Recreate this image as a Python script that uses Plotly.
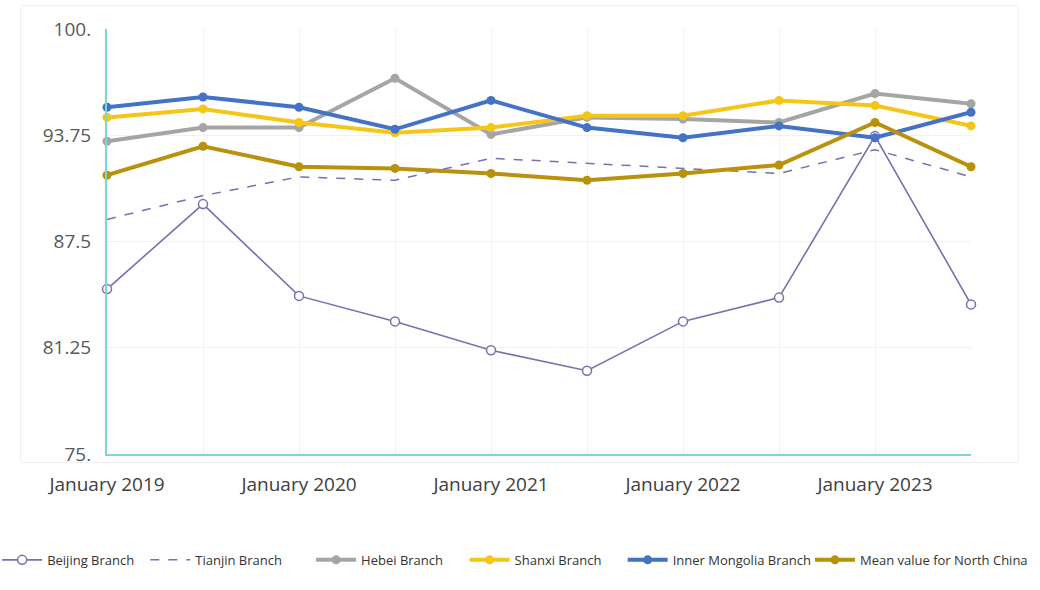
import plotly.graph_objects as go

periods = ["Jan 2019", "Jul 2019", "Jan 2020", "Jul 2020", "Jan 2021",
           "Jul 2021", "Jan 2022", "Jul 2022", "Jan 2023", "Jul 2023"]
tick_labels = ["January 2019", "", "January 2020", "", "January 2021", "",
               "January 2022", "", "January 2023", ""]

beijing = [84.7, 89.7, 84.3, 82.8, 81.1, 79.9, 82.8, 84.2, 93.7, 83.8]
tianjin = [88.8, 90.2, 91.3, 91.1, 92.4, 92.1, 91.8, 91.5, 92.9, 91.3]
hebei = [93.4, 94.2, 94.2, 97.1, 93.8, 94.8, 94.7, 94.5, 96.2, 95.6]
shanxi = [94.8, 95.3, 94.5, 93.9, 94.2, 94.9, 94.9, 95.8, 95.5, 94.3]
inner_mongolia = [95.4, 96.0, 95.4, 94.1, 95.8, 94.2, 93.6, 94.3, 93.6, 95.1]
mean_north = [91.4, 93.1, 91.9, 91.8, 91.5, 91.1, 91.5, 92.0, 94.5, 91.9]

y_ticks = [75, 81.25, 87.5, 93.75, 100]
y_tick_text = ["75.", "81.25", "87.5", "93.75", "100."]

x = list(range(len(periods)))

fig = go.Figure()

fig.add_trace(go.Scatter(
    x=x, y=beijing, name="Beijing Branch", mode="lines+markers",
    line=dict(color="#7671b0", width=1.6),
    marker=dict(symbol="circle", size=9, color="white",
                line=dict(color="#7671b0", width=1.5)),
    cliponaxis=False, legend="legend"))
fig.add_trace(go.Scatter(
    x=x, y=tianjin, name="Tianjin Branch", mode="lines",
    line=dict(color="#7671b0", width=1.5, dash="dash"),
    cliponaxis=False, legend="legend2"))
fig.add_trace(go.Scatter(
    x=x, y=hebei, name="Hebei Branch", mode="lines+markers",
    line=dict(color="#a5a5a5", width=4),
    marker=dict(symbol="circle", size=9, color="#a5a5a5"),
    cliponaxis=False, legend="legend3"))
fig.add_trace(go.Scatter(
    x=x, y=shanxi, name="Shanxi Branch", mode="lines+markers",
    line=dict(color="#f5c518", width=4),
    marker=dict(symbol="circle", size=9, color="#f5c518"),
    cliponaxis=False, legend="legend4"))
fig.add_trace(go.Scatter(
    x=x, y=inner_mongolia, name="Inner Mongolia Branch", mode="lines+markers",
    line=dict(color="#4472c4", width=4),
    marker=dict(symbol="circle", size=9, color="#4472c4"),
    cliponaxis=False, legend="legend5"))
fig.add_trace(go.Scatter(
    x=x, y=mean_north, name="Mean value for North China", mode="lines+markers",
    line=dict(color="#b8920c", width=4),
    marker=dict(symbol="circle", size=9, color="#b8920c"),
    cliponaxis=False, legend="legend6"))


def legend_box(xc):
    return dict(orientation="h", xref="container", yref="container",
                x=xc, xanchor="center", y=0.051, yanchor="middle",
                font=dict(size=13, color="#333333"),
                itemwidth=40, bgcolor="rgba(0,0,0,0)")


fig.update_layout(
    width=1040, height=590,
    margin=dict(l=107, r=69, t=29, b=136, autoexpand=False),
    paper_bgcolor="white", plot_bgcolor="white",
    font=dict(family="Open Sans, sans-serif", color="#595959"),
    showlegend=True,
    legend=legend_box(0.066),
    legend2=legend_box(0.208),
    legend3=legend_box(0.365),
    legend4=legend_box(0.515),
    legend5=legend_box(0.692),
    legend6=legend_box(0.886),
    xaxis=dict(range=[0, 9], tickmode="array", tickvals=x, ticktext=tick_labels,
               showgrid=True, gridcolor="#f2f2f2", gridwidth=1,
               showline=True, linecolor="#7fd6cf", linewidth=2,
               ticks="", ticklabelstandoff=12,
               tickfont=dict(size=19, color="#404040"),
               zeroline=False, automargin=False),
    yaxis=dict(range=[75, 100], tickmode="array", tickvals=y_ticks,
               ticktext=y_tick_text,
               showgrid=True, gridcolor="#f2f2f2", gridwidth=1,
               showline=True, linecolor="#7fd6cf", linewidth=2,
               ticks="", ticklabelstandoff=10,
               tickfont=dict(size=19, color="#595959"),
               zeroline=False, automargin=False),
)

fig.add_shape(type="rect", xref="paper", yref="paper",
              x0=-0.1, x1=1.055, y0=-0.02, y1=1.055,
              line=dict(color="#f0f0f0", width=1), layer="below")

fig.write_html("out.html")
